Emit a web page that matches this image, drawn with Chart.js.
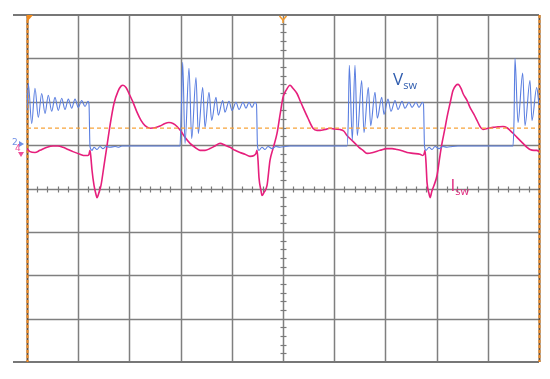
<!DOCTYPE html>
<html><head><meta charset="utf-8">
<script src="https://cdn.jsdelivr.net/npm/chart.js@4"></script>
<style>html,body{margin:0;padding:0;background:#fff}#wrap{width:550px;height:379px}</style>
</head><body><div id="wrap"><canvas id="c" width="550" height="379"></canvas></div>
<script>
// Oscilloscope capture: horizontal 0..10 divisions, vertical -4..4 divisions
const xDivs = [0,1,2,3,4,5,6,7,8,9,10];
const yDivs = [-4,-3,-2,-1,0,1,2,3,4];

// V_sw (channel 2) time (div) and level (div)
const vswT = [0,0.025,0.092,0.156,0.221,0.287,0.352,0.416,0.482,0.547,0.611,0.678,0.742,0.807,0.873,0.938,1.002,1.068,1.133,1.191,1.211,1.230,1.270,1.309,1.367,1.426,1.484,1.543,1.621,1.719,1.777,1.855,
 2.988,3.008,3.041,3.086,3.164,3.217,3.301,3.346,3.432,3.477,3.555,3.607,3.691,3.736,3.822,3.867,3.945,4.004,4.082,4.141,4.219,4.277,4.336,4.395,4.453,4.482,4.502,4.531,4.590,4.648,4.707,4.785,4.863,4.941,5.039,5.137,
 6.250,6.275,6.295,6.354,6.406,6.451,6.537,6.582,6.666,6.713,6.797,6.842,6.928,6.973,7.051,7.109,7.188,7.246,7.324,7.383,7.461,7.520,7.598,7.656,7.725,7.744,7.764,7.793,7.852,7.910,7.969,8.047,8.125,8.203,8.301,8.418,
 9.492,9.512,9.531,9.590,9.682,9.727,9.824,9.863,9.955,10.0];
const vswV = [1.80,2.42,1.50,2.31,1.64,2.19,1.73,2.15,1.78,2.10,1.80,2.08,1.82,2.06,1.85,2.06,1.87,2.03,1.89,2.01,1.94,0.97,0.88,0.95,0.90,0.97,0.92,0.97,0.95,0.97,0.95,0.98,
 0.98,1.57,2.91,1.04,2.77,1.15,2.56,1.27,2.33,1.41,2.22,1.57,2.10,1.69,2.03,1.76,2.01,1.80,1.99,1.82,1.99,1.85,1.99,1.87,1.99,1.94,0.97,0.88,0.95,0.90,0.97,0.92,0.97,0.95,0.97,0.98,
 0.98,1.57,2.84,1.11,2.84,1.22,2.49,1.29,2.33,1.45,2.22,1.62,2.10,1.71,2.06,1.78,2.03,1.82,2.01,1.85,1.99,1.87,1.99,1.87,1.99,1.94,0.97,0.88,0.95,0.90,0.97,0.92,0.97,0.95,0.97,0.98,
 0.98,1.57,3.00,1.52,2.66,1.45,2.49,1.57,2.33,1.92];

// I_sw (channel 4) time (div) and level (div)
const iswT = [0,0.059,0.156,0.254,0.391,0.508,0.605,0.703,0.801,0.898,1.035,1.133,1.191,1.211,1.230,1.250,1.270,1.309,1.348,1.367,1.406,1.445,1.504,1.563,1.621,1.699,1.777,1.836,1.875,1.934,1.992,2.070,2.148,2.227,2.305,2.402,2.500,2.598,2.695,2.773,2.852,2.930,3.008,3.086,3.184,3.281,3.379,3.477,3.574,3.672,3.770,3.867,3.965,4.063,4.160,4.258,4.355,4.434,4.473,
 4.492,4.512,4.531,4.570,4.590,4.629,4.688,4.746,4.805,4.883,4.941,5.000,5.059,5.137,5.195,5.273,5.332,5.391,5.488,5.586,5.664,5.723,5.820,5.918,6.016,6.113,6.191,6.250,6.328,6.406,6.484,6.563,6.641,6.758,6.895,7.031,7.129,7.227,7.324,7.422,7.539,7.676,7.734,
 7.764,7.773,7.793,7.813,7.852,7.871,7.910,7.949,8.008,8.066,8.105,8.164,8.203,8.262,8.320,8.379,8.418,8.477,8.516,8.594,8.652,8.730,8.789,8.848,8.906,9.004,9.102,9.199,9.297,9.375,9.434,9.512,9.570,9.629,9.688,9.766,9.824,9.902,9.961,10.0];
const iswV = [0.92,0.85,0.83,0.88,0.95,0.98,0.98,0.95,0.90,0.85,0.79,0.76,0.76,0.79,0.88,0.69,0.42,0.07,-0.14,-0.21,-0.09,0.07,0.53,0.99,1.45,1.96,2.24,2.36,2.38,2.33,2.19,1.99,1.76,1.57,1.45,1.39,1.40,1.44,1.50,1.52,1.50,1.43,1.32,1.18,1.04,0.95,0.88,0.88,0.92,0.98,1.04,1.00,0.95,0.88,0.83,0.79,0.74,0.76,0.81,
 0.88,0.65,0.25,-0.05,-0.16,-0.09,0.07,0.65,0.92,1.27,1.69,2.10,2.26,2.38,2.31,2.19,2.03,1.87,1.62,1.39,1.34,1.34,1.36,1.39,1.37,1.36,1.32,1.22,1.13,1.04,0.95,0.88,0.81,0.83,0.88,0.92,0.92,0.90,0.87,0.83,0.81,0.79,0.76,
 0.83,0.88,0.60,0.14,-0.12,-0.21,-0.05,0.07,0.30,0.76,1.04,1.39,1.64,1.96,2.26,2.38,2.40,2.31,2.19,2.03,1.87,1.71,1.57,1.43,1.36,1.39,1.41,1.42,1.43,1.40,1.34,1.25,1.18,1.11,1.04,0.95,0.90,0.88,0.88,0.85];

const trigLevel = 1.39;      // orange dashed trigger level (div)
const chGround = 0.98;       // channel ground markers (div)
const trigPos = 5;           // trigger position marker (div)
const labels = [
  {main:'V', sub:'sw', x:7.15, y:2.38, color:'#2f5cae'},
  {main:'I', sub:'sw', x:8.27, y:-0.05, color:'#e0287e'}
];

const toPts = (t, v) => t.map((x, i) => ({x, y: v[i]}));

const scopePlugin = {
  id: 'scope',
  beforeDatasetsDraw(chart) {
    const {ctx, chartArea: a, scales: {x, y}} = chart;
    ctx.save();
    ctx.strokeStyle = '#7f7f7f';
    ctx.lineWidth = 1.5;
    xDivs.forEach(d => {
      if (d === 0 || d === 10) return;
      const px = Math.round(x.getPixelForValue(d)) + 0.5;
      ctx.beginPath(); ctx.moveTo(px, a.top); ctx.lineTo(px, a.bottom); ctx.stroke();
    });
    yDivs.forEach(d => {
      if (d === 4 || d === -4) return;
      const py = Math.round(y.getPixelForValue(d)) + 0.5;
      ctx.beginPath(); ctx.moveTo(a.left, py); ctx.lineTo(a.right, py); ctx.stroke();
    });
    // top and bottom frame lines (extend left of the graticule)
    ctx.strokeStyle = '#777';
    ctx.lineWidth = 2;
    [4, -4].forEach(d => {
      const py = Math.round(y.getPixelForValue(d));
      ctx.beginPath(); ctx.moveTo(a.left - 14, py); ctx.lineTo(a.right, py); ctx.stroke();
    });
    // minor ticks on centre axes
    ctx.strokeStyle = '#7a7a7a';
    ctx.lineWidth = 1.2;
    const cy = Math.round(y.getPixelForValue(0)) + 0.5;
    for (let k = 0; k <= 50; k++) {
      if (k % 5 === 0) continue;
      const px = Math.round(x.getPixelForValue(k / 5)) + 0.5;
      ctx.beginPath(); ctx.moveTo(px, cy - 3); ctx.lineTo(px, cy + 3); ctx.stroke();
    }
    const cx = Math.round(x.getPixelForValue(5)) + 0.5;
    for (let k = -20; k <= 20; k++) {
      if (k % 5 === 0) continue;
      const py = Math.round(y.getPixelForValue(k / 5)) + 0.5;
      ctx.beginPath(); ctx.moveTo(cx - 3, py); ctx.lineTo(cx + 3, py); ctx.stroke();
    }
    // left / right borders (orange dashed over dark)
    [0, 10].forEach(d => {
      const px = Math.round(x.getPixelForValue(d)) + 0.5;
      ctx.setLineDash([]);
      ctx.strokeStyle = '#6b5036'; ctx.lineWidth = 2;
      ctx.beginPath(); ctx.moveTo(px, a.top); ctx.lineTo(px, a.bottom); ctx.stroke();
      ctx.setLineDash([3, 2]);
      ctx.strokeStyle = '#ee8a25'; ctx.lineWidth = 2;
      ctx.beginPath(); ctx.moveTo(px, a.top); ctx.lineTo(px, a.bottom); ctx.stroke();
    });
    ctx.setLineDash([]);
    ctx.restore();
  },
  afterDatasetsDraw(chart) {
    const {ctx, chartArea: a, scales: {x, y}} = chart;
    ctx.save();
    // orange markers on top edge
    ctx.fillStyle = '#f08a1c';
    const lx = x.getPixelForValue(0);
    ctx.beginPath(); ctx.moveTo(lx, a.top); ctx.lineTo(lx + 6, a.top); ctx.lineTo(lx, a.top + 7); ctx.closePath(); ctx.fill();
    const tx = x.getPixelForValue(trigPos);
    ctx.strokeStyle = '#f39a2e'; ctx.lineWidth = 1.5;
    ctx.beginPath(); ctx.moveTo(tx - 3.5, a.top + 1); ctx.lineTo(tx, a.top + 5); ctx.lineTo(tx + 3.5, a.top + 1); ctx.stroke();
    ctx.beginPath(); ctx.moveTo(tx, a.top + 5); ctx.lineTo(tx, a.top + 8); ctx.stroke();
    // channel ground markers
    const gy = y.getPixelForValue(chGround);
    ctx.font = '9px "DejaVu Sans"';
    ctx.textBaseline = 'middle';
    ctx.fillStyle = '#6f8fe6';
    ctx.fillText('2', lx - 15, gy - 3);
    ctx.beginPath(); ctx.moveTo(lx - 8, gy - 5); ctx.lineTo(lx - 3, gy - 2); ctx.lineTo(lx - 8, gy + 1); ctx.closePath(); ctx.fill();
    ctx.fillStyle = '#ee4f9a';
    ctx.fillText('4', lx - 12, gy + 3);
    ctx.beginPath(); ctx.moveTo(lx - 9, gy + 6); ctx.lineTo(lx - 6, gy + 11); ctx.lineTo(lx - 3, gy + 6); ctx.closePath(); ctx.fill();
    // trace labels
    labels.forEach(l => {
      const px = x.getPixelForValue(l.x), py = y.getPixelForValue(l.y);
      ctx.fillStyle = l.color;
      ctx.textBaseline = 'alphabetic';
      ctx.font = '17px "Open Sans"';
      ctx.fillText(l.main, px, py);
      const w = ctx.measureText(l.main).width;
      ctx.font = '11px "Open Sans"';
      ctx.fillText(l.sub, px + w, py + 4);
    });
    ctx.restore();
  }
};

new Chart(document.getElementById('c'), {
  type: 'line',
  data: {
    datasets: [
      {label: 'Trigger', data: [{x: 0, y: trigLevel}, {x: 10, y: trigLevel}], borderColor: '#f7a43a', borderWidth: 1.3, borderDash: [4, 3], pointRadius: 0},
      {label: 'Vsw', data: toPts(vswT, vswV), borderColor: '#5a7ee0', borderWidth: 1.1, pointRadius: 0, cubicInterpolationMode: 'monotone'},
      {label: 'Isw', data: toPts(iswT, iswV), borderColor: '#e61f7c', borderWidth: 1.6, pointRadius: 0, cubicInterpolationMode: 'monotone'}
    ]
  },
  options: {
    responsive: false,
    animation: false,
    layout: {padding: {left: 27, right: 11, top: 15, bottom: 17}},
    plugins: {legend: {display: false}, tooltip: {enabled: false}},
    scales: {
      x: {type: 'linear', min: 0, max: 10, display: false},
      y: {type: 'linear', min: -4, max: 4, display: false}
    }
  },
  plugins: [scopePlugin]
});
</script>
</body></html>
